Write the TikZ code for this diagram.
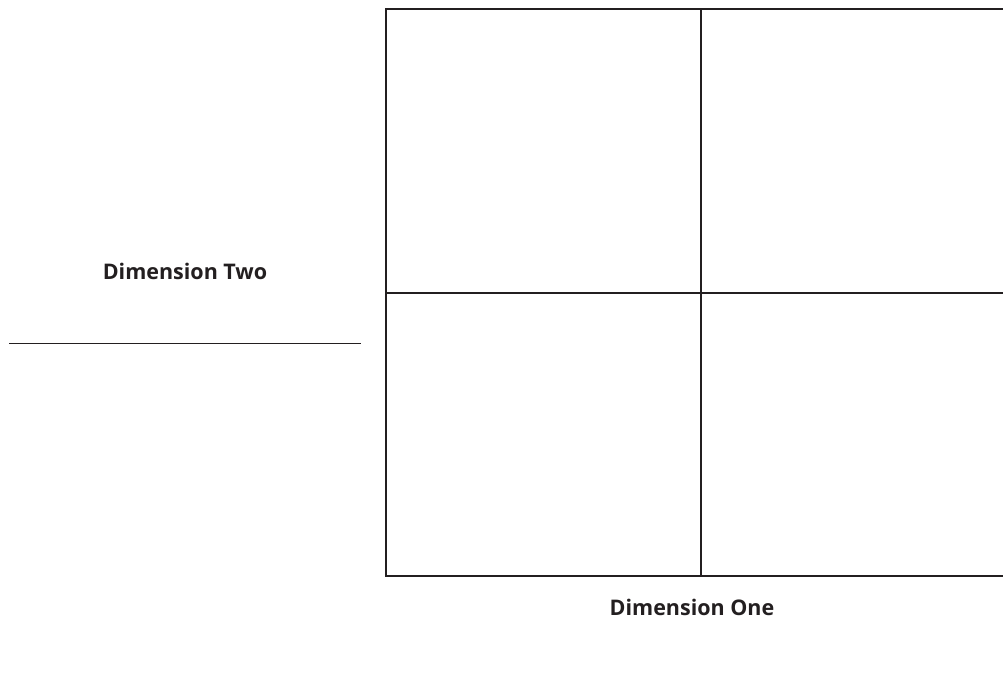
\documentclass[tikz,border=0pt]{standalone}
\usepackage{fontspec}
\setmainfont{Open Sans}
\definecolor{ink}{HTML}{231F20}
\begin{document}
\begin{tikzpicture}[x=1pt,y=-1pt,
  grid/.style={draw=ink,line width=2.2pt},
  thin/.style={draw=ink,line width=1.2pt},
  lab/.style={font=\bfseries\fontsize{21.5}{24}\selectfont,text=ink,inner sep=0pt}]
\useasboundingbox (0,0) rectangle (1003,680);
\coordinate (tl) at (386,9);
\coordinate (tm) at (701,9);
\coordinate (tr) at (1004,9);
\coordinate (ml) at (386,293);
\coordinate (mr) at (1004,293);
\coordinate (bl) at (386,576);
\coordinate (bm) at (701,576);
\coordinate (br) at (1004,576);
\draw[grid] (tr) -- (tl) -- (bl) -- (br);
\draw[grid] (tm) -- (bm);
\draw[grid] (ml) -- (mr);
\coordinate (la) at (9,343.5);
\coordinate (lb) at (361,343.5);
\draw[thin] (la) -- (lb);
\node[lab] (two) at (185,271) {Dimension Two};
\node[lab] (one) at (692,607) {Dimension One};
\end{tikzpicture}
\end{document}
